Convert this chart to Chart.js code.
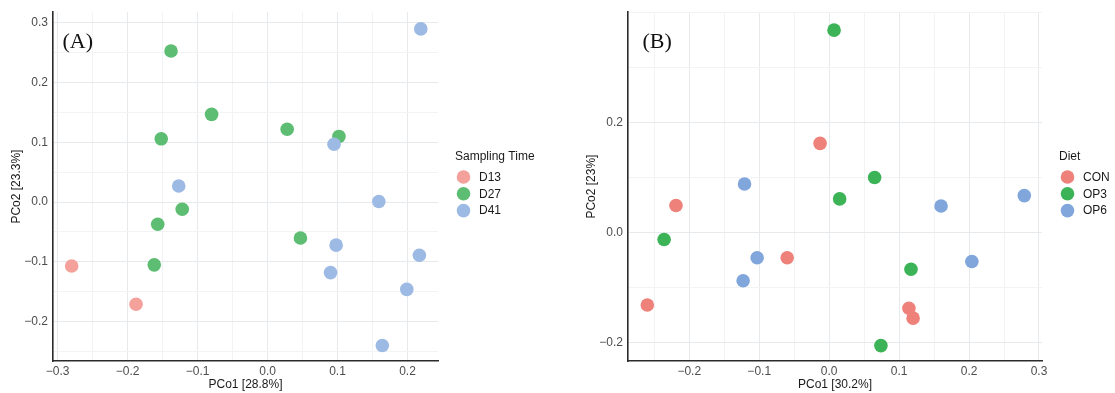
<!DOCTYPE html>
<html>
<head>
<meta charset="utf-8">
<script src="https://cdn.jsdelivr.net/npm/chart.js@4.4.1/dist/chart.umd.min.js"></script>
<style>
  html, body { margin: 0; padding: 0; background: #fff; }
  body { width: 1115px; height: 393px; position: relative; overflow: hidden; }
  .panel { position: absolute; top: 0; height: 393px; }
  #panelA { left: 0; width: 560px; }
  #panelB { left: 560px; width: 555px; }
</style>
</head>
<body>
<div class="panel" id="panelA"><canvas id="chartA"></canvas></div>
<div class="panel" id="panelB"><canvas id="chartB"></canvas></div>
<script>
// Panel A: Sampling Time  [PCo1, PCo2]
const timeD13 = [[-0.280, -0.107], [-0.188, -0.171]];
const timeD27 = [[-0.138, 0.253], [-0.080, 0.147], [-0.152, 0.106], [0.028, 0.122], [0.102, 0.110],
                 [-0.122, -0.012], [-0.157, -0.037], [-0.162, -0.105], [0.047, -0.060]];
const timeD41 = [[0.219, 0.290], [0.095, 0.097], [-0.127, 0.027], [0.159, 0.001], [0.098, -0.072],
                 [0.217, -0.089], [0.090, -0.118], [0.199, -0.146], [0.164, -0.240]];
const xTicksA = [-0.3, -0.2, -0.1, 0.0, 0.1, 0.2];
const yTicksA = [-0.2, -0.1, 0.0, 0.1, 0.2, 0.3];

// Panel B: Diet
const dietCON = [[-0.013, 0.162], [-0.219, 0.049], [-0.060, -0.046], [-0.260, -0.132], [0.114, -0.138], [0.120, -0.156]];
const dietOP3 = [[0.007, 0.368], [0.065, 0.100], [0.015, 0.061], [-0.236, -0.013], [0.117, -0.067], [0.074, -0.206]];
const dietOP6 = [[-0.121, 0.088], [-0.103, -0.046], [-0.123, -0.088], [0.160, 0.048], [0.279, 0.067], [0.204, -0.053]];
const xTicksB = [-0.2, -0.1, 0.0, 0.1, 0.2, 0.3];
const yTicksB = [-0.2, 0.0, 0.2];

const SANS = '"Liberation Sans", Arial, Helvetica, sans-serif';
const SERIF = '"Liberation Serif", "Times New Roman", serif';

function toPoints(arr) {
  return arr.map(p => ({ x: p[0], y: p[1] }));
}

function fmt(v) {
  if (Math.abs(v) < 1e-9) return '0.0';
  return (v < 0 ? '\u2212' : '') + Math.abs(v).toFixed(1);
}

// majors get labels, minors (halfway) only get a faint grid line
function gridTicks(majors, min, max) {
  const step = majors[1] - majors[0];
  const out = [];
  for (let v = majors[0] - step / 2; v <= max + 1e-9; v += step / 2) {
    const val = Math.round(v * 1000) / 1000;
    if (val < min - 1e-9) continue;
    const isMajor = majors.some(m => Math.abs(m - val) < 1e-6);
    out.push({ value: val, minor: !isMajor });
  }
  return out;
}

// Panel letter + side legend
const panelDecor = {
  id: 'panelDecor',
  afterDraw(chart, args, opts) {
    const { ctx, chartArea } = chart;
    ctx.save();
    ctx.textBaseline = 'middle';
    ctx.textAlign = 'left';
    ctx.fillStyle = '#111';
    ctx.font = '22px ' + SERIF;
    ctx.fillText(opts.tag, chartArea.left + opts.tagDx, 42);

    const lx = chartArea.right + 17;
    ctx.fillStyle = '#1a1a1a';
    ctx.font = '12px ' + SANS;
    ctx.fillText(opts.title, lx, 157);
    chart.data.datasets.forEach((ds, i) => {
      const y = 177 + i * 16.8;
      ctx.beginPath();
      ctx.arc(lx + 8.5, y, 6.8, 0, Math.PI * 2);
      ctx.fillStyle = ds.backgroundColor;
      ctx.fill();
      ctx.fillStyle = '#1a1a1a';
      ctx.fillText(ds.label, lx + 24, y + 0.5);
    });
    ctx.restore();
  }
};

function makeChart(id, cfg) {
  const gridColor = c => (c.tick && c.tick.minor) ? '#f1f3f4' : '#e6eaec';
  const axisBase = (ticks, range, title, titlePad) => ({
    type: 'linear',
    min: range[0],
    max: range[1],
    bounds: 'data',
    afterBuildTicks: scale => { scale.ticks = gridTicks(ticks, range[0], range[1]); },
    ticks: {
      autoSkip: false,
      maxRotation: 0,
      color: '#4d4d4d',
      font: { family: SANS, size: 12 },
      callback: (v, i, t) => t[i].minor ? '' : fmt(t[i].value)
    },
    grid: { color: gridColor, lineWidth: 1, drawTicks: false },
    border: { display: true, color: '#2b2b2b', width: 1.6 },
    title: { display: true, text: title, color: '#1a1a1a', font: { family: SANS, size: 12 }, padding: titlePad }
  });

  const x = axisBase(cfg.xTicks, cfg.xRange, cfg.xTitle, { top: 0, bottom: 1 });
  x.position = 'bottom';
  x.ticks.padding = 3;
  x.afterFit = s => { s.height = 32; };

  const y = axisBase(cfg.yTicks, cfg.yRange, cfg.yTitle, { top: cfg.yTitlePad, bottom: 0 });
  y.position = 'left';
  y.ticks.padding = 5;
  y.afterFit = s => { s.width = cfg.yWidth; };

  return new Chart(document.getElementById(id), {
    type: 'scatter',
    data: {
      datasets: cfg.series.map((s, i) => ({
        label: s.label,
        data: toPoints(s.data),
        backgroundColor: s.color,
        borderWidth: 0,
        pointRadius: 6.8,
        pointHoverRadius: 6.8,
        order: cfg.series.length - i
      }))
    },
    options: {
      responsive: true,
      maintainAspectRatio: false,
      animation: false,
      layout: { padding: { top: 8, right: cfg.rightPad, bottom: 0, left: 0 } },
      scales: { x: x, y: y },
      plugins: {
        legend: { display: false },
        tooltip: { enabled: false },
        panelDecor: { tag: cfg.tag, tagDx: cfg.tagDx, title: cfg.legendTitle }
      }
    },
    plugins: [panelDecor]
  });
}

makeChart('chartA', {
  tag: '(A)', tagDx: 9.5, legendTitle: 'Sampling Time',
  xTitle: 'PCo1 [28.8%]', yTitle: 'PCo2 [23.3%]',
  xTicks: xTicksA, yTicks: yTicksA,
  xRange: [-0.3067, 0.2436], yRange: [-0.266, 0.318],
  yWidth: 53, yTitlePad: 9.5, rightPad: 122,
  series: [
    { label: 'D13', data: timeD13, color: '#f4a19b' },
    { label: 'D27', data: timeD27, color: '#5cbd73' },
    { label: 'D41', data: timeD41, color: '#9dbae4' }
  ]
});

makeChart('chartB', {
  tag: '(B)', tagDx: 14.5, legendTitle: 'Diet',
  xTitle: 'PCo1 [30.2%]', yTitle: 'PCo2 [23%]',
  xTicks: xTicksB, yTicks: yTicksB,
  xRange: [-0.2876, 0.3043], yRange: [-0.234, 0.4007],
  yWidth: 68, yTitlePad: 24.5, rightPad: 73,
  series: [
    { label: 'CON', data: dietCON, color: '#ee827b' },
    { label: 'OP3', data: dietOP3, color: '#3cb356' },
    { label: 'OP6', data: dietOP6, color: '#80a6dc' }
  ]
});
</script>
</body>
</html>
